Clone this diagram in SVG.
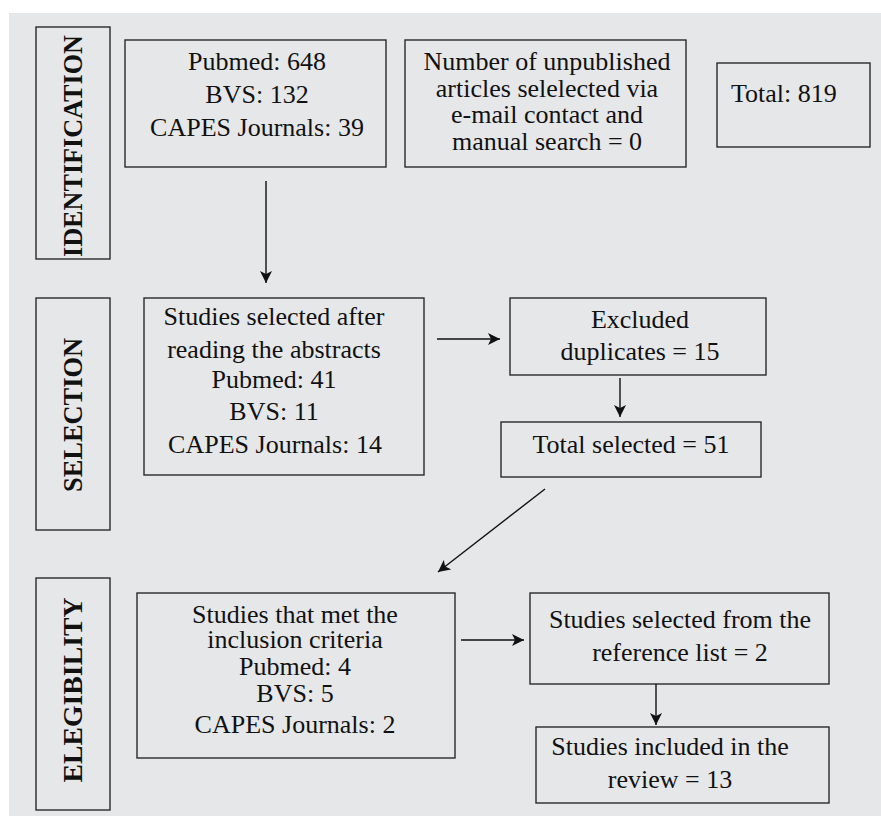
<svg xmlns="http://www.w3.org/2000/svg" width="881" height="816" viewBox="0 0 881 816">
<defs>
<style>
.box{fill:none;stroke:#2a2a2a;stroke-width:1.4}
.t{font-family:"Liberation Serif","Times New Roman",serif;font-size:26px;fill:#111;text-anchor:middle}
.h{font-family:"Liberation Serif","Times New Roman",serif;font-size:28px;font-weight:bold;fill:#111;text-anchor:middle}
.c{fill:none;stroke:#111;stroke-width:1.4}
</style>
<marker id="ah" markerWidth="14" markerHeight="12" refX="12" refY="6" orient="auto" markerUnits="userSpaceOnUse">
<path d="M0,0 L12,6 L0,12 L3,6 Z" fill="#111"/>
</marker>
</defs>
<rect x="0" y="0" width="881" height="816" fill="#ffffff"/>
<rect x="9" y="13" width="872" height="803" fill="#e6e7e9"/>

<g id="identification">
<rect class="box" x="36" y="27" width="74" height="232"/>
<text class="h" transform="translate(82,146) rotate(-90)" textLength="222" lengthAdjust="spacingAndGlyphs">IDENTIFICATION</text>
</g>
<g id="databases">
<rect class="box" x="125" y="40" width="261" height="127"/>
<text class="t" x="257" y="70">Pubmed: 648</text>
<text class="t" x="257" y="103">BVS: 132</text>
<text class="t" x="257" y="136">CAPES Journals: 39</text>
</g>
<g id="unpublished">
<rect class="box" x="405" y="40" width="281" height="127"/>
<text class="t" x="547" y="70">Number of unpublished</text>
<text class="t" x="547" y="97">articles selelected via</text>
<text class="t" x="547" y="123">e-mail contact and</text>
<text class="t" x="547" y="150">manual search = 0</text>
</g>
<g id="total">
<rect class="box" x="717" y="63" width="153" height="84"/>
<text class="t" x="731" y="102" style="text-anchor:start">Total: 819</text>
</g>

<g id="selection">
<rect class="box" x="36" y="298" width="74" height="232"/>
<text class="h" transform="translate(82,415) rotate(-90)" textLength="154" lengthAdjust="spacingAndGlyphs">SELECTION</text>
</g>
<g id="abstracts">
<rect class="box" x="144" y="298" width="280" height="177"/>
<text class="t" x="274" y="325">Studies selected after</text>
<text class="t" x="274" y="358">reading the abstracts</text>
<text class="t" x="274" y="388">Pubmed: 41</text>
<text class="t" x="274" y="420">BVS: 11</text>
<text class="t" x="275" y="453">CAPES Journals: 14</text>
</g>
<g id="duplicates">
<rect class="box" x="510" y="298" width="256" height="77"/>
<text class="t" x="640" y="328">Excluded</text>
<text class="t" x="640" y="360">duplicates = 15</text>
</g>
<g id="totalselected">
<rect class="box" x="501" y="422" width="260" height="55"/>
<text class="t" x="631" y="453">Total selected = 51</text>
</g>

<g id="elegibility">
<rect class="box" x="36" y="578" width="74" height="232"/>
<text class="h" transform="translate(82,690) rotate(-90)" textLength="185" lengthAdjust="spacingAndGlyphs">ELEGIBILITY</text>
</g>
<g id="inclusion">
<rect class="box" x="137" y="593" width="318" height="165"/>
<text class="t" x="295" y="623">Studies that met the</text>
<text class="t" x="295" y="648">inclusion criteria</text>
<text class="t" x="295" y="675">Pubmed: 4</text>
<text class="t" x="295" y="702">BVS: 5</text>
<text class="t" x="295" y="733">CAPES Journals: 2</text>
</g>
<g id="reflist">
<rect class="box" x="530" y="593" width="299" height="91"/>
<text class="t" x="680" y="628">Studies selected from the</text>
<text class="t" x="680" y="661">reference list = 2</text>
</g>
<g id="included">
<rect class="box" x="536" y="727" width="293" height="76"/>
<text class="t" x="670" y="755">Studies included in the</text>
<text class="t" x="670" y="788">review = 13</text>
</g>

<g id="connectors">
<line class="c" x1="266" y1="181" x2="266" y2="283" marker-end="url(#ah)"/>
<line class="c" x1="437" y1="339" x2="500" y2="339" marker-end="url(#ah)"/>
<line class="c" x1="620" y1="378" x2="620" y2="417" marker-end="url(#ah)"/>
<line class="c" x1="545" y1="489" x2="438" y2="572" marker-end="url(#ah)"/>
<line class="c" x1="461" y1="640" x2="524" y2="640" marker-end="url(#ah)"/>
<line class="c" x1="656" y1="684" x2="656" y2="725" marker-end="url(#ah)"/>
</g>
</svg>
